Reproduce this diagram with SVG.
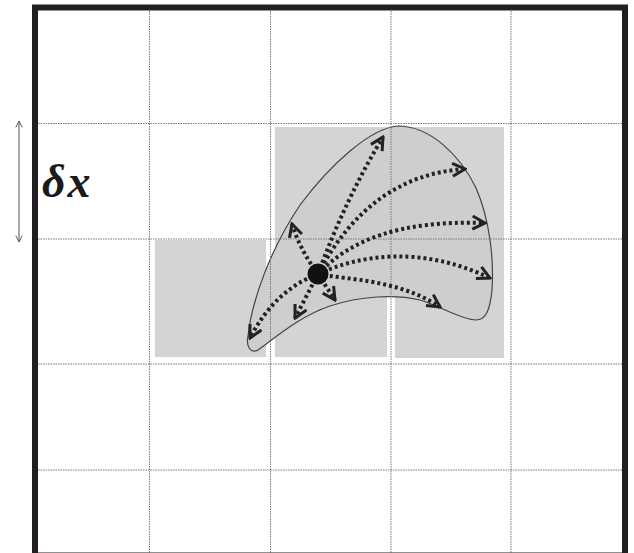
<svg xmlns="http://www.w3.org/2000/svg" width="634" height="553" viewBox="0 0 634 553">
  <style>
    .cell { fill: #d4d4d4; }
    .grid { stroke: #7a7a7a; stroke-width: 1; stroke-dasharray: 1.5 1; fill: none; }
    .flow { fill: none; stroke: #222; stroke-width: 4; stroke-dasharray: 3 3; marker-end: url(#vhead); }
    .label { font-family: "Liberation Serif", "DejaVu Serif", serif; font-style: italic; font-weight: bold; font-size: 46px; fill: #1a1a1a; }
  </style>
  <defs>
    <marker id="vhead" viewBox="0 0 16 16" refX="14" refY="8" markerWidth="16" markerHeight="16" markerUnits="userSpaceOnUse" orient="auto">
      <path d="M1.5,1.5 L14,8 L1.5,14.5" fill="none" stroke="#222" stroke-width="3"/>
    </marker>
    <marker id="thin" viewBox="0 0 10 10" refX="9" refY="5" markerWidth="8" markerHeight="8" markerUnits="userSpaceOnUse" orient="auto-start-reverse">
      <path d="M1,1 L9,5 L1,9" fill="none" stroke="#555" stroke-width="1.2"/>
    </marker>
  </defs>
  <rect width="634" height="553" fill="#fff"/>
  <g id="cells">
    <rect class="cell" x="155" y="240" width="111" height="117"/>
    <rect class="cell" x="275" y="127" width="229" height="170"/>
    <rect class="cell" x="275" y="127" width="112" height="230"/>
    <rect class="cell" x="395" y="127" width="109" height="231"/>
  </g>
  <g id="region">
    <path d="M398,126 C430,126 460,155 476,188 C490,220 494,260 492,290 C490,310 486,320 476,320 C462,320 440,306 420,300 C395,294 360,296 330,306 C300,316 275,338 258,350 C250,354 246,346 248,336 C252,300 270,250 300,205 C330,165 370,128 398,126 Z" fill="#cecece" stroke="#444" stroke-width="1.2"/>
  </g>
  <g id="grid">
    <line class="grid" x1="149.5" y1="11" x2="149.5" y2="553"/>
    <line class="grid" x1="270.5" y1="11" x2="270.5" y2="553"/>
    <line class="grid" x1="391" y1="11" x2="391" y2="553"/>
    <line class="grid" x1="511" y1="11" x2="511" y2="553"/>
    <line class="grid" x1="38" y1="123.5" x2="622" y2="123.5"/>
    <line class="grid" x1="38" y1="239" x2="622" y2="239"/>
    <line class="grid" x1="38" y1="364" x2="622" y2="364"/>
    <line class="grid" x1="38" y1="470" x2="622" y2="470"/>
  </g>
  <g id="frame">
    <rect x="35" y="7.5" width="590" height="548" fill="none" stroke="#231f20" stroke-width="6"/>
  </g>
  <g id="connectors">
    <path class="flow" d="M318,274 Q345,200 383,137"/>
    <path class="flow" d="M318,274 Q370,175 465,169"/>
    <path class="flow" d="M318,274 C350,240 400,220 485,223"/>
    <path class="flow" d="M318,274 C360,255 420,245 490,278"/>
    <path class="flow" d="M318,274 C350,280 400,280 440,307"/>
    <path class="flow" d="M318,274 L335,300"/>
    <path class="flow" d="M318,274 L295,318"/>
    <path class="flow" d="M318,274 Q275,290 250,338"/>
    <path class="flow" d="M318,274 Q300,250 292,224"/>
  </g>
  <g id="source">
    <circle cx="318" cy="274" r="10.5" fill="#111"/>
  </g>
  <g id="scale">
    <line x1="19" y1="121" x2="19" y2="242" stroke="#555" stroke-width="1" marker-start="url(#thin)" marker-end="url(#thin)"/>
    <text class="label" x="42" y="197" letter-spacing="2">δx</text>
  </g>
</svg>
